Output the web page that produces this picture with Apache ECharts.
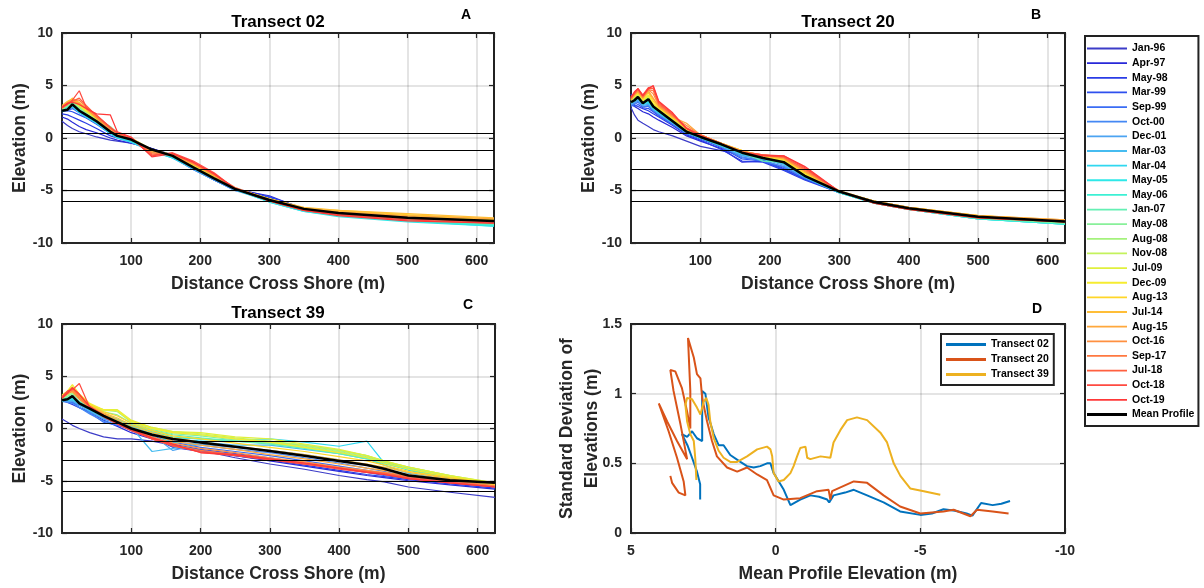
<!DOCTYPE html>
<html>
<head>
<meta charset="utf-8">
<title>Transect profiles</title>
<script src="https://cdn.jsdelivr.net/npm/echarts@6/dist/echarts.min.js"></script>
<style>
  html, body { margin: 0; padding: 0; background: #fff; }
  #chart { width: 1204px; height: 588px; }
</style>
</head>
<body>
<div id="chart"></div>
<script>
/* survey dates, oldest first */
var surveyNames = ['Jan-96', 'Apr-97', 'May-98', 'Mar-99', 'Sep-99', 'Oct-00', 'Dec-01', 'Mar-03', 'Mar-04',
    'May-05', 'May-06', 'Jan-07', 'May-08', 'Aug-08', 'Nov-08', 'Jul-09', 'Dec-09', 'Aug-13', 'Jul-14',
    'Aug-15', 'Oct-16', 'Sep-17', 'Jul-18', 'Oct-18', 'Oct-19'];

var surveyColors = ['#3c3cc8', '#2828d8', '#2a3ce6', '#2e50ee', '#3a6cf4', '#4488f4', '#4ca4f2', '#46bcf0', '#30d8f0',
    '#2ee8e8', '#3cf0d4', '#64f0b4', '#88f09a', '#a4f27c', '#c4f25c', '#e0f03c', '#f6ec30', '#ffd628', '#ffbe38',
    '#ffa83c', '#ff9040', '#ff7840', '#ff6040', '#ff4a40', '#ff3838'];

// tidal datum levels drawn as black horizontal lines (m)
var datumLevels = [0.47, -1.2, -3, -5, -6];

// Transect 02
var distT02 = [0, 8, 15, 25, 35, 50, 70, 80, 100, 130, 160, 190, 220, 250, 300, 350, 400, 500, 625];
var meanT02 = [2.6, 2.7, 3.2, 2.6, 2.2, 1.6, 0.6, 0.2, -0.15, -1.1, -1.7, -2.8, -3.85, -4.85, -5.9, -6.75, -7.15, -7.6, -7.9];
var elevT02 = [
    [1.6, 1.2, 0.9, 0.6, 0.4, 0.1, -0.2, -0.3, -0.5, -1.0, -1.6, -2.7, -3.8, -4.8, -5.6, -6.7, -7.2, -7.7, -8.0],
    [2.0, 1.8, 1.5, 1.1, 0.8, 0.5, 0.0, -0.2, -0.5, -1.0, -1.7, -2.8, -3.9, -4.9, -5.5, -6.8, -7.2, -7.7, -8.1],
    [2.3, 2.2, 2.0, 1.7, 1.4, 0.9, 0.2, 0.0, -0.4, -1.0, -1.8, -2.9, -4.0, -4.9, -5.7, -6.8, -7.3, -7.8, -8.1],
    [2.5, 2.6, 2.5, 2.2, 1.9, 1.3, 0.4, 0.1, -0.3, -1.1, -1.8, -3.0, -4.0, -5.0, -5.6, -6.8, -7.3, -7.7, -8.0],
    [2.7, 2.6, 2.8, 2.4, 2.0, 1.4, 0.5, 0.1, -0.2, -1.1, -1.7, -2.9, -3.9, -4.9, -5.8, -6.8, -7.2, -7.7, -8.0],
    [2.6, 2.7, 2.9, 2.5, 2.0, 1.4, 0.5, 0.1, -0.3, -1.2, -1.8, -3.0, -4.0, -4.9, -5.9, -6.8, -7.3, -7.8, -8.1],
    [2.7, 2.8, 3.0, 2.6, 2.1, 1.5, 0.5, 0.1, -0.3, -1.2, -1.9, -3.0, -4.0, -5.0, -6.0, -6.9, -7.3, -7.8, -8.2],
    [2.8, 2.9, 3.1, 2.5, 2.0, 1.4, 0.4, 0.0, -0.4, -1.2, -1.9, -2.9, -3.9, -4.9, -6.0, -6.9, -7.4, -7.9, -8.3],
    [2.6, 2.8, 3.0, 2.4, 2.0, 1.4, 0.4, 0.0, -0.4, -1.3, -1.9, -2.9, -3.9, -4.9, -6.1, -7.0, -7.4, -7.9, -8.4],
    [2.5, 2.7, 3.1, 2.6, 2.1, 1.5, 0.5, 0.1, -0.3, -1.2, -1.8, -2.8, -3.8, -4.9, -6.1, -7.0, -7.5, -8.0, -8.4],
    [2.7, 2.9, 3.2, 2.7, 2.2, 1.6, 0.6, 0.2, -0.2, -1.2, -1.8, -2.8, -3.8, -4.8, -6.0, -6.9, -7.4, -7.9, -8.3],
    [2.8, 3.0, 3.3, 2.8, 2.3, 1.7, 0.7, 0.2, -0.2, -1.2, -1.7, -2.7, -3.8, -4.8, -5.9, -6.8, -7.3, -7.8, -8.2],
    [2.7, 3.1, 3.4, 2.9, 2.4, 1.9, 1.1, 0.5, -0.1, -1.1, -1.7, -2.7, -3.7, -4.8, -5.9, -6.8, -7.2, -7.7, -8.1],
    [2.8, 3.2, 3.5, 3.0, 2.5, 1.8, 0.8, 0.3, -0.1, -1.2, -1.6, -2.6, -3.7, -4.8, -5.9, -6.7, -7.1, -7.6, -8.0],
    [2.9, 3.2, 3.6, 3.0, 2.5, 1.8, 0.7, 0.3, -0.1, -1.1, -1.6, -2.6, -3.7, -4.8, -5.9, -6.7, -7.1, -7.6, -7.9],
    [3.0, 3.3, 3.7, 3.1, 2.6, 1.8, 0.8, 0.3, 0.0, -1.1, -1.6, -2.6, -3.6, -4.8, -5.8, -6.7, -7.0, -7.5, -7.9],
    [2.9, 3.3, 3.6, 3.2, 2.6, 1.9, 0.8, 0.3, 0.0, -1.2, -1.7, -2.6, -3.7, -4.8, -5.8, -6.7, -7.0, -7.4, -7.8],
    [3.0, 3.4, 3.8, 3.3, 2.7, 1.9, 0.8, 0.3, -0.1, -1.2, -1.6, -2.5, -3.6, -4.8, -5.8, -6.7, -6.9, -7.3, -7.7],
    [3.1, 3.5, 3.7, 3.4, 2.8, 2.0, 0.9, 0.4, 0.0, -1.2, -1.6, -2.5, -3.6, -4.8, -5.8, -6.6, -6.9, -7.2, -7.6],
    [3.0, 3.4, 3.6, 3.3, 2.9, 2.0, 0.8, 0.3, -0.1, -1.3, -1.7, -2.5, -3.6, -4.8, -5.9, -6.7, -7.0, -7.4, -7.7],
    [2.9, 3.3, 3.5, 3.2, 2.8, 1.9, 0.7, 0.3, -0.1, -1.4, -1.6, -2.4, -3.5, -4.8, -5.9, -6.8, -7.1, -7.5, -7.9],
    [2.8, 3.2, 3.6, 3.6, 3.0, 2.1, 0.9, 0.4, 0.0, -1.5, -1.5, -2.4, -3.5, -4.7, -5.9, -6.8, -7.2, -7.6, -8.0],
    [2.9, 3.3, 3.5, 3.8, 3.1, 2.1, 1.0, 0.5, 0.0, -1.6, -1.5, -2.3, -3.4, -4.8, -6.0, -6.9, -7.3, -7.7, -8.0],
    [3.0, 3.2, 3.6, 4.5, 2.9, 2.2, 1.0, 0.5, 0.0, -1.7, -1.4, -2.2, -3.3, -4.8, -6.0, -6.9, -7.3, -7.8, -8.1],
    [2.9, 3.3, 3.4, 3.2, 2.8, 2.3, 2.2, 0.6, 0.1, -1.8, -1.5, -2.3, -3.4, -4.8, -6.0, -6.9, -7.4, -7.9, -8.1]
];

// Transect 20
var distT20 = [0, 5, 10, 17, 25, 32, 40, 60, 80, 100, 130, 160, 190, 220, 250, 300, 350, 400, 500, 625];
var meanT20 = [3.4, 3.6, 3.9, 3.3, 3.7, 3.0, 2.6, 1.6, 0.6, 0.1, -0.6, -1.4, -1.9, -2.3, -3.6, -5.1, -6.1, -6.7, -7.5, -7.95];
var elevT20 = [
    [2.9, 2.2, 1.7, 1.4, 1.1, 0.8, 0.6, 0.2, -0.3, -0.8, -1.2, -1.6, -2.1, -2.9, -3.9, -5.1, -6.0, -6.7, -7.6, -8.0],
    [3.4, 3.0, 2.8, 2.5, 2.3, 2.0, 1.7, 1.0, 0.2, -0.3, -1.0, -2.3, -2.2, -3.0, -3.9, -5.1, -6.0, -6.7, -7.6, -8.0],
    [4.2, 3.1, 3.0, 2.8, 2.6, 2.3, 2.0, 1.2, 0.3, -0.2, -1.1, -2.2, -2.3, -3.1, -4.0, -5.2, -6.0, -6.6, -7.6, -8.0],
    [3.3, 3.0, 3.2, 2.9, 2.8, 2.5, 2.1, 1.3, 0.4, -0.1, -0.9, -2.0, -2.2, -3.0, -3.9, -5.2, -6.0, -6.6, -7.5, -8.0],
    [3.0, 3.2, 3.4, 3.0, 3.0, 2.6, 2.2, 1.3, 0.4, 0.0, -0.8, -1.9, -2.1, -2.8, -3.8, -5.2, -6.1, -6.7, -7.6, -8.0],
    [3.1, 3.3, 3.5, 3.0, 3.1, 2.7, 2.3, 1.4, 0.5, 0.0, -0.8, -1.8, -2.2, -2.7, -3.8, -5.2, -6.1, -6.7, -7.6, -8.1],
    [3.2, 3.4, 3.6, 3.1, 3.2, 2.7, 2.3, 1.4, 0.5, 0.0, -0.8, -1.7, -2.0, -2.6, -3.7, -5.2, -6.1, -6.8, -7.6, -8.1],
    [3.3, 3.5, 3.7, 3.2, 3.3, 2.8, 2.4, 1.5, 0.5, 0.0, -0.7, -1.6, -2.0, -2.5, -3.7, -5.2, -6.2, -6.8, -7.7, -8.2],
    [3.4, 3.5, 3.8, 3.2, 3.4, 2.8, 2.4, 1.5, 0.5, 0.0, -0.7, -1.5, -1.9, -2.4, -3.7, -5.2, -6.2, -6.8, -7.7, -8.2],
    [3.3, 3.6, 3.8, 3.3, 3.5, 2.9, 2.5, 1.5, 0.6, 0.0, -0.7, -1.5, -2.0, -2.4, -3.6, -5.2, -6.2, -6.8, -7.7, -8.2],
    [3.5, 3.6, 3.9, 3.3, 3.6, 2.9, 2.5, 1.6, 0.6, 0.1, -0.7, -1.4, -1.9, -2.3, -3.6, -5.2, -6.2, -6.8, -7.7, -8.2],
    [3.6, 3.7, 4.0, 3.4, 3.7, 3.0, 2.6, 1.6, 0.6, 0.1, -0.6, -1.4, -2.2, -2.3, -3.6, -5.1, -6.2, -6.8, -7.6, -8.1],
    [3.4, 3.6, 4.0, 3.4, 3.7, 3.0, 2.6, 1.7, 0.7, 0.1, -0.6, -1.4, -1.9, -2.3, -3.5, -5.1, -6.1, -6.8, -7.6, -8.1],
    [3.5, 3.7, 4.1, 3.5, 3.8, 3.1, 2.7, 1.7, 0.7, 0.1, -0.6, -1.3, -1.9, -2.2, -3.5, -5.1, -6.1, -6.7, -7.6, -8.0],
    [3.6, 3.8, 4.1, 3.5, 3.9, 3.1, 2.7, 1.8, 0.7, 0.2, -0.6, -1.3, -1.8, -2.2, -3.5, -5.1, -6.1, -6.7, -7.5, -8.0],
    [3.7, 3.9, 4.2, 3.6, 4.0, 3.2, 2.8, 1.8, 0.8, 0.2, -0.5, -1.3, -1.8, -2.1, -3.4, -5.1, -6.0, -6.7, -7.5, -7.9],
    [3.6, 4.0, 4.3, 3.6, 4.1, 3.3, 2.8, 1.9, 0.8, 0.2, -0.5, -1.2, -1.8, -2.1, -3.4, -5.1, -6.0, -6.6, -7.4, -7.9],
    [3.7, 4.1, 4.4, 3.7, 4.3, 3.5, 2.9, 1.9, 0.9, 0.3, -0.5, -1.2, -1.7, -2.0, -3.3, -5.1, -6.0, -6.6, -7.4, -7.9],
    [3.8, 4.0, 4.5, 3.8, 4.4, 3.7, 3.0, 2.0, 0.9, 0.3, -0.5, -1.2, -1.7, -2.0, -3.2, -5.0, -6.0, -6.6, -7.4, -7.8],
    [3.6, 4.1, 4.4, 3.8, 4.5, 3.8, 3.0, 2.0, 1.4, 0.3, -0.5, -1.3, -1.7, -1.9, -3.2, -5.1, -6.0, -6.6, -7.4, -7.8],
    [3.7, 4.2, 4.5, 3.9, 4.6, 4.2, 3.1, 2.1, 1.2, 0.3, -0.5, -1.3, -1.6, -1.9, -3.1, -5.1, -6.1, -6.7, -7.5, -7.9],
    [3.8, 4.3, 4.6, 3.9, 4.6, 4.5, 3.2, 2.2, 1.0, 0.3, -0.5, -1.3, -1.6, -1.8, -3.0, -5.1, -6.1, -6.7, -7.5, -7.9],
    [3.9, 4.2, 4.7, 4.0, 4.7, 4.7, 3.3, 2.2, 0.9, 0.3, -0.6, -1.4, -1.6, -1.8, -2.9, -5.1, -6.1, -6.7, -7.5, -8.0],
    [3.8, 4.3, 4.7, 4.1, 4.8, 4.9, 3.4, 2.3, 0.9, 0.2, -0.6, -1.4, -1.6, -1.7, -2.8, -5.1, -6.2, -6.8, -7.6, -8.0],
    [3.9, 4.4, 4.7, 4.0, 4.7, 5.0, 3.5, 2.4, 0.9, 0.2, -0.6, -1.4, -1.7, -1.7, -2.7, -5.1, -6.2, -6.8, -7.6, -8.0]
];

// Transect 39
var distT39 = [0, 8, 15, 25, 40, 60, 80, 100, 130, 160, 200, 250, 300, 350, 400, 440, 465, 500, 560, 625];
var meanT39 = [2.7, 2.8, 3.1, 2.4, 1.9, 1.2, 0.6, 0.0, -0.6, -1.0, -1.35, -1.75, -2.15, -2.6, -3.1, -3.5, -3.85, -4.5, -4.95, -5.2];
var elevT39 = [
    [0.9, 0.6, 0.3, 0.0, -0.4, -0.8, -1.0, -1.0, -1.2, -1.6, -2.1, -2.8, -3.4, -3.9, -4.5, -4.9, -5.1, -5.6, -6.1, -6.6],
    [2.7, 2.5, 2.3, 2.0, 1.6, 0.8, 0.2, -0.4, -1.0, -1.7, -2.1, -2.6, -3.1, -3.6, -4.1, -4.5, -4.7, -5.0, -5.4, -5.8],
    [2.6, 2.6, 2.5, 2.2, 2.0, 1.1, 0.4, -0.2, -0.9, -1.8, -2.2, -2.6, -3.0, -3.5, -4.0, -4.4, -4.6, -4.9, -5.3, -5.7],
    [2.8, 2.7, 2.6, 2.3, 1.8, 1.0, 0.5, -0.1, -0.8, -1.5, -2.0, -2.4, -2.8, -3.3, -3.8, -4.2, -4.5, -4.8, -5.2, -5.6],
    [2.7, 2.6, 2.5, 2.0, 1.5, 0.6, 0.3, -0.1, -0.7, -1.3, -1.8, -2.2, -2.6, -3.1, -3.6, -4.0, -4.3, -4.7, -5.1, -5.5],
    [2.6, 2.5, 2.4, 2.0, 1.4, 0.7, 0.4, 0.0, -0.6, -1.2, -1.6, -2.0, -2.3, -2.8, -3.3, -3.8, -4.1, -4.6, -5.1, -5.5],
    [2.7, 2.6, 2.6, 2.2, 1.6, 0.9, 0.5, 0.1, -0.6, -2.1, -1.5, -1.8, -2.1, -2.5, -3.0, -3.5, -3.9, -4.5, -5.0, -5.5],
    [2.8, 2.7, 2.7, 2.3, 1.7, 1.0, 0.6, 0.1, -2.2, -1.9, -1.3, -1.6, -1.6, -2.0, -2.4, -2.9, -3.5, -4.3, -4.9, -5.4],
    [2.7, 2.7, 2.8, 2.4, 1.8, 1.1, 0.7, 0.2, -0.5, -1.4, -1.1, -1.1, -1.0, -1.3, -1.7, -1.2, -3.3, -4.0, -4.8, -5.5],
    [2.6, 2.8, 2.9, 2.5, 1.9, 1.2, 0.8, 0.3, -0.4, -0.9, -1.0, -1.2, -1.3, -1.6, -2.1, -2.6, -3.2, -3.9, -4.7, -5.5],
    [2.7, 2.9, 3.0, 2.5, 2.0, 1.3, 0.8, 0.3, -0.3, -0.8, -1.0, -1.2, -1.4, -1.8, -2.3, -2.8, -3.3, -3.9, -4.7, -5.4],
    [2.8, 3.0, 3.1, 2.6, 2.0, 1.4, 0.9, 0.4, -0.2, -0.6, -0.9, -1.2, -1.5, -1.9, -2.4, -2.9, -3.4, -3.9, -4.6, -5.3],
    [2.9, 3.1, 3.3, 2.8, 2.1, 1.6, 1.3, 0.5, -0.1, -0.5, -0.7, -1.1, -1.4, -1.8, -2.3, -2.8, -3.3, -3.8, -4.6, -5.3],
    [2.9, 3.2, 3.4, 2.9, 2.2, 1.8, 1.6, 0.6, 0.0, -0.4, -0.6, -1.0, -1.3, -1.7, -2.2, -2.7, -3.2, -3.7, -4.5, -5.3],
    [3.0, 3.3, 3.6, 3.0, 2.3, 1.7, 1.7, 0.7, 0.1, -0.3, -0.5, -0.9, -1.2, -1.6, -2.1, -2.6, -3.1, -3.7, -4.5, -5.2],
    [3.1, 3.5, 4.0, 3.2, 2.3, 1.8, 1.8, 0.8, 0.1, -0.3, -0.4, -0.8, -1.0, -1.5, -2.0, -2.6, -3.1, -3.7, -4.5, -5.2],
    [3.2, 3.6, 4.2, 3.3, 2.4, 1.8, 1.7, 0.7, 0.0, -0.4, -0.6, -1.0, -1.3, -1.8, -2.3, -2.8, -3.3, -3.9, -4.6, -5.3],
    [3.0, 3.4, 3.8, 3.1, 2.3, 1.6, 1.2, 0.5, -0.2, -0.7, -1.0, -1.4, -1.8, -2.2, -2.7, -3.1, -3.5, -4.1, -4.7, -5.3],
    [3.1, 3.5, 3.6, 3.0, 2.2, 1.5, 1.0, 0.3, -0.4, -0.9, -1.3, -1.7, -2.1, -2.5, -3.0, -3.4, -3.7, -4.2, -4.8, -5.4],
    [3.0, 3.4, 3.5, 2.9, 2.1, 1.4, 0.8, 0.1, -0.6, -1.2, -1.6, -2.0, -2.5, -2.9, -3.4, -3.8, -4.0, -4.4, -4.9, -5.5],
    [2.9, 3.3, 3.6, 2.8, 2.0, 1.2, 0.6, 0.0, -0.8, -1.4, -1.9, -2.3, -2.8, -3.2, -3.7, -4.0, -4.2, -4.5, -5.0, -5.5],
    [3.0, 3.4, 3.8, 3.0, 2.0, 1.2, 0.5, -0.1, -0.9, -1.6, -2.1, -2.5, -2.9, -3.3, -3.8, -4.1, -4.3, -4.6, -5.0, -5.5],
    [3.1, 3.5, 3.9, 3.2, 2.1, 1.2, 0.5, -0.1, -1.0, -1.7, -2.2, -2.5, -2.9, -3.4, -3.8, -4.1, -4.3, -4.7, -5.1, -5.6],
    [3.0, 3.6, 3.7, 4.3, 2.0, 1.1, 0.4, -0.2, -1.0, -1.6, -2.3, -2.6, -3.0, -3.4, -3.9, -4.2, -4.4, -4.8, -5.2, -5.6],
    [2.9, 3.4, 3.9, 3.3, 2.1, 1.3, 0.5, -0.1, -0.9, -1.5, -2.3, -2.5, -2.9, -3.3, -3.8, -4.2, -4.4, -4.8, -5.2, -5.6]
];

// panel D: [mean profile elevation, standard deviation]
var sdT02 = [[2.61, 0.24], [2.61, 0.35], [2.72, 0.44], [2.89, 0.54], [3.05, 0.63], [3.24, 0.71], [3.06, 0.69],
    [2.89, 0.73], [2.72, 0.68], [2.54, 0.66], [2.54, 1.02], [2.43, 1.0], [2.32, 0.83], [2.14, 0.71], [1.97, 0.63],
    [1.8, 0.63], [1.57, 0.56], [1.22, 0.51], [0.99, 0.48], [0.76, 0.47], [0.53, 0.48], [0.3, 0.5], [0.18, 0.5],
    [0.07, 0.43], [-0.28, 0.31], [-0.51, 0.2], [-0.85, 0.24], [-1.2, 0.27], [-1.5, 0.26], [-1.78, 0.24],
    [-1.85, 0.22], [-2.0, 0.27], [-2.4, 0.29], [-2.7, 0.31], [-3.16, 0.27], [-3.73, 0.22], [-4.3, 0.155],
    [-5.0, 0.13], [-5.4, 0.14], [-5.8, 0.17], [-6.2, 0.16], [-6.6, 0.14], [-6.8, 0.125], [-7.1, 0.215],
    [-7.5, 0.2], [-7.8, 0.21], [-8.1, 0.23]];
var sdT20 = [[3.64, 0.41], [3.58, 0.36], [3.35, 0.29], [3.12, 0.27], [3.18, 0.37], [3.41, 0.54], [3.7, 0.73],
    [4.04, 0.93], [3.75, 0.8], [3.41, 0.66], [3.06, 0.53], [3.29, 0.78], [3.53, 1.02], [3.64, 1.17], [3.47, 1.16],
    [3.24, 1.04], [3.06, 0.87], [2.95, 0.75], [2.95, 1.02], [3.03, 1.4], [2.83, 1.26], [2.72, 1.14], [2.6, 1.11],
    [2.54, 0.97], [2.37, 0.8], [2.2, 0.66], [2.03, 0.55], [1.68, 0.47], [1.33, 0.44], [0.99, 0.47], [0.64, 0.42],
    [0.3, 0.38], [0.07, 0.27], [-0.28, 0.24], [-0.85, 0.25], [-1.43, 0.3], [-1.83, 0.31], [-1.89, 0.24],
    [-1.95, 0.3], [-2.7, 0.37], [-3.16, 0.36], [-3.73, 0.27], [-4.3, 0.19], [-5.0, 0.14], [-5.8, 0.155],
    [-6.15, 0.167], [-6.73, 0.12], [-6.96, 0.167], [-7.5, 0.155], [-8.05, 0.14]];
var sdT39 = [[2.74, 0.38], [2.78, 0.54], [2.83, 0.66], [2.95, 0.71], [3.06, 0.8], [3.12, 0.92], [3.06, 0.97],
    [2.89, 0.96], [2.72, 0.9], [2.6, 0.85], [2.49, 0.94], [2.4, 0.97], [2.32, 0.92], [2.26, 0.8], [2.14, 0.68],
    [1.97, 0.59], [1.8, 0.54], [1.57, 0.51], [1.33, 0.51], [0.99, 0.55], [0.64, 0.6], [0.3, 0.62], [0.18, 0.6],
    [0.12, 0.55], [0.07, 0.43], [-0.1, 0.37], [-0.28, 0.38], [-0.51, 0.43], [-0.62, 0.48], [-0.74, 0.55],
    [-0.85, 0.61], [-1.03, 0.62], [-1.09, 0.54], [-1.2, 0.53], [-1.55, 0.55], [-1.89, 0.54], [-2.0, 0.65],
    [-2.24, 0.74], [-2.47, 0.81], [-2.81, 0.83], [-3.16, 0.81], [-3.62, 0.72], [-3.85, 0.65], [-4.08, 0.5],
    [-4.31, 0.41], [-4.65, 0.32], [-5.12, 0.3], [-5.69, 0.275]];
var sdNames = ['Transect 02', 'Transect 20', 'Transect 39'];
var sdColors = ['#0072BD', '#D95319', '#EDB120'];

var FONT = '"Liberation Sans", Arial, sans-serif';
var INK = '#262626';
// legend keys: a plain bar inside a 40x10 box (the zero-length moves pin the box size)
var THIN_KEY = 'path://M0,0L0,0M40,10L40,10M0,4.1H40V5.9H0Z';
var THICK_KEY = 'path://M0,0L0,0M40,10L40,10M0,3.5H40V6.5H0Z';

var TransectChart = function () {

    var xAxes = [], yAxes = [], series = [];

    // primary axis + a mirrored one so ticks show on all four sides like a boxed plot
    var addAxes = function (g, cfg) {
        var labelStyle = {fontFamily: FONT, fontWeight: 'bold', fontSize: 14, color: INK};
        var nameStyle = {fontFamily: FONT, fontWeight: 'bold', fontSize: 17.5, color: INK, lineHeight: 25};
        var tick = {inside: true, length: 5, lineStyle: {color: INK, width: 1.2}};
        var split = {show: true, lineStyle: {color: 'rgba(0,0,0,0.14)', width: 1.5}};
        xAxes.push({
            gridIndex: g, type: 'value', min: cfg.xMin, max: cfg.xMax, interval: cfg.xInt, inverse: !!cfg.xInverse,
            name: cfg.xName, nameLocation: 'middle', nameGap: 29, nameTextStyle: nameStyle,
            axisLine: {show: true, onZero: false, lineStyle: {color: INK, width: 2}},
            axisTick: tick, splitLine: split,
            axisLabel: Object.assign({margin: 11, showMinLabel: cfg.xShowMin, showMaxLabel: cfg.xShowMax}, labelStyle)
        });
        xAxes.push({
            gridIndex: g, type: 'value', position: 'top', min: cfg.xMin, max: cfg.xMax, interval: cfg.xInt,
            inverse: !!cfg.xInverse, axisLine: {show: false, onZero: false}, axisTick: tick,
            axisLabel: {show: false}, splitLine: {show: false}
        });
        yAxes.push({
            gridIndex: g, type: 'value', min: cfg.yMin, max: cfg.yMax, interval: cfg.yInt,
            name: cfg.yName, nameLocation: 'middle', nameGap: cfg.yNameGap, nameMoveOverlap: false,
            nameTextStyle: nameStyle,
            axisLine: {show: true, onZero: false, lineStyle: {color: INK, width: 2}},
            axisTick: tick, splitLine: split,
            axisLabel: Object.assign({margin: 9}, labelStyle)
        });
        yAxes.push({
            gridIndex: g, type: 'value', position: 'right', min: cfg.yMin, max: cfg.yMax, interval: cfg.yInt,
            axisLine: {show: false, onZero: false}, axisTick: tick, axisLabel: {show: false},
            splitLine: {show: false}
        });
    };

    var pairs = function (xs, ys) {
        return xs.map(function (x, i) { return [x, ys[i]]; });
    };

    var addProfiles = function (g, dist, rows, mean) {
        rows.forEach(function (row, i) {
            series.push({
                name: surveyNames[i], type: 'line', xAxisIndex: 2 * g, yAxisIndex: 2 * g,
                symbol: 'none', silent: true, z: 2,
                lineStyle: {color: surveyColors[i], width: 1.2},
                itemStyle: {color: surveyColors[i]},
                data: pairs(dist, row)
            });
        });
        series.push({
            name: 'Mean Profile', type: 'line', xAxisIndex: 2 * g, yAxisIndex: 2 * g,
            symbol: 'none', silent: true, z: 4,
            lineStyle: {color: '#000', width: 2.5},
            itemStyle: {color: '#000'},
            data: pairs(dist, mean),
            markLine: {
                silent: true, symbol: 'none', label: {show: false},
                lineStyle: {color: '#000', width: 1, type: 'solid'},
                data: datumLevels.map(function (v) { return {yAxis: v}; })
            }
        });
    };

    var profileAxes = {
        xMin: 0, xMax: 625, xInt: 100, xShowMin: false, xShowMax: false, xName: 'Distance Cross Shore (m)',
        yMin: -10, yMax: 10, yInt: 5, yName: 'Elevation (m)', yNameGap: 29
    };
    addAxes(0, profileAxes);
    addAxes(1, profileAxes);
    addAxes(2, profileAxes);
    addAxes(3, {
        xMin: -10, xMax: 5, xInt: 5, xInverse: true, xShowMin: true, xShowMax: true,
        xName: 'Mean Profile Elevation (m)',
        yMin: 0, yMax: 1.5, yInt: 0.5, yName: 'Standard Deviation of\nElevations (m)', yNameGap: 26
    });

    addProfiles(0, distT02, elevT02, meanT02);
    addProfiles(1, distT20, elevT20, meanT20);
    addProfiles(2, distT39, elevT39, meanT39);

    [sdT02, sdT20, sdT39].forEach(function (pts, i) {
        series.push({
            name: sdNames[i], type: 'line', xAxisIndex: 6, yAxisIndex: 6,
            symbol: 'none', silent: true,
            lineStyle: {color: sdColors[i], width: 2},
            itemStyle: {color: sdColors[i]},
            data: pts
        });
    });

    var label = function (text, x, y, size) {
        return {
            type: 'text', x: x, y: y, silent: true,
            style: {text: text, align: 'center', verticalAlign: 'middle', fill: '#000',
                font: 'bold ' + size + 'px ' + FONT}
        };
    };

    var legendText = {fontFamily: FONT, fontWeight: 'bold', fontSize: 10.5, color: '#000', lineHeight: 10};

    var option = {
        animation: false,
        backgroundColor: '#fff',
        grid: [
            {left: 62, top: 33, width: 432, height: 210, show: true, borderColor: INK, borderWidth: 2},
            {left: 631, top: 33, width: 434, height: 210, show: true, borderColor: INK, borderWidth: 2},
            {left: 62, top: 324, width: 433, height: 209, show: true, borderColor: INK, borderWidth: 2},
            {left: 631, top: 324, width: 434, height: 209, show: true, borderColor: INK, borderWidth: 2}
        ],
        xAxis: xAxes,
        yAxis: yAxes,
        legend: [
            {
                orient: 'vertical', left: 1085, top: 36, padding: [7, 4, 6, 2],
                itemWidth: 40, itemHeight: 10, itemGap: 3.64,
                borderColor: '#222', borderWidth: 2, backgroundColor: '#fff',
                selectedMode: false, textStyle: legendText,
                data: surveyNames.map(function (n) { return {name: n, icon: THIN_KEY}; })
                    .concat([{name: 'Mean Profile', icon: THICK_KEY}])
            },
            {
                orient: 'vertical', left: 941, top: 334, padding: [5, 5, 5, 5],
                itemWidth: 40, itemHeight: 10, itemGap: 4,
                borderColor: '#222', borderWidth: 2, backgroundColor: '#fff',
                selectedMode: false, textStyle: legendText,
                data: sdNames.map(function (n) { return {name: n, icon: THICK_KEY}; })
            }
        ],
        graphic: [
            label('Transect 02', 278, 22, 17),
            label('Transect 20', 848, 22, 17),
            label('Transect 39', 278, 313, 17),
            label('A', 466, 15, 14),
            label('B', 1036, 15, 14),
            label('C', 468, 305, 14),
            label('D', 1037, 309, 14)
        ],
        series: series
    };

    return {
        render: function (selector) {
            var myChart = echarts.init(document.querySelector(selector), null, {renderer: 'canvas'});
            myChart.setOption(option);
        }
    };
}();

TransectChart.render('#chart');
</script>
</body>
</html>
